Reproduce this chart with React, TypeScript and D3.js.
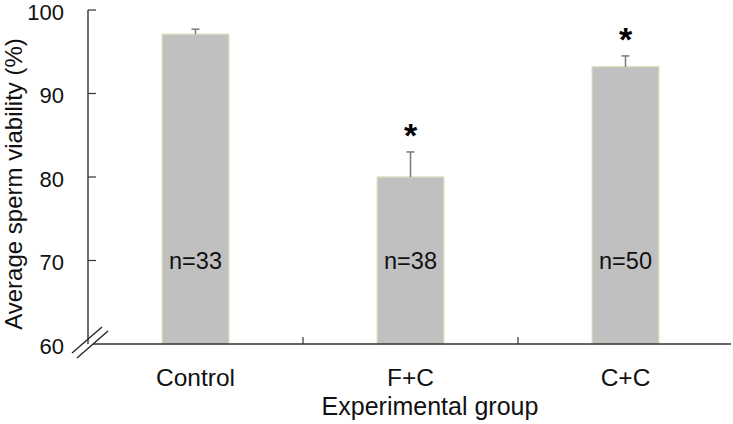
import React from "react";
import * as d3 from "d3";

const categories = ["Control", "F+C", "C+C"];
const means = [97.1, 80.0, 93.2];
const errors = [0.6, 3.0, 1.3];
const nLabels = ["n=33", "n=38", "n=50"];
const significant = [false, true, true];
const yTicks = [60, 70, 80, 90, 100];

const W = 733;
const H = 424;
const M = { left: 88, right: 0, top: 10, bottom: 80 };
const FONT = "Liberation Sans, Arial, sans-serif";

export default function App() {
  const x = d3
    .scaleBand<string>()
    .domain(categories)
    .range([M.left, W - M.right])
    .paddingInner(0)
    .paddingOuter(0);
  const y = d3.scaleLinear().domain([60, 100]).range([H - M.bottom, M.top]);
  const bw = x.bandwidth() * 0.31;
  const y0 = y(60);

  return (
    <svg
      width={W}
      height={H}
      style={{ position: "absolute", left: 0, top: 0, background: "#fff" }}
      fontFamily={FONT}
    >
      {/* bars */}
      {categories.map((c, i) => {
        const cx = (x(c) as number) + x.bandwidth() / 2;
        return (
          <g key={c}>
            <rect
              x={cx - bw / 2}
              y={y(means[i])}
              width={bw}
              height={y0 - y(means[i])}
              fill="#c0c0c0"
              stroke="#dcd8b8"
              strokeWidth={1.2}
            />
            <line
              x1={cx}
              x2={cx}
              y1={y(means[i])}
              y2={y(means[i] + errors[i])}
              stroke="#7a7a7a"
              strokeWidth={1.5}
            />
            <line
              x1={cx - 4}
              x2={cx + 4}
              y1={y(means[i] + errors[i])}
              y2={y(means[i] + errors[i])}
              stroke="#7a7a7a"
              strokeWidth={1.5}
            />
            <text
              x={cx}
              y={y(70) + 8.5}
              textAnchor="middle"
              fontSize={23.5}
              fill="#111"
            >
              {nLabels[i]}
            </text>
            {significant[i] && (
              <text
                x={cx}
                y={y(means[i] + errors[i]) - 5}
                textAnchor="middle"
                fontSize={34}
                fontWeight="bold"
                fill="#000"
              >
                *
              </text>
            )}
            <text
              x={cx}
              y={y0 + 42}
              textAnchor="middle"
              fontSize={24.5}
              fill="#111"
            >
              {c}
            </text>
          </g>
        );
      })}
      {/* x axis */}
      <line x1={93} x2={W - 2} y1={y0} y2={y0} stroke="#333" strokeWidth={1.6} />
      {categories.slice(1).map((c) => (
        <line
          key={c}
          x1={x(c) as number}
          x2={x(c) as number}
          y1={y0}
          y2={y0 - 7}
          stroke="#333"
          strokeWidth={1.2}
        />
      ))}
      {/* y axis */}
      <line x1={M.left} x2={M.left} y1={y(100)} y2={y0} stroke="#333" strokeWidth={1.4} />
      {yTicks.map((t) => (
        <g key={t}>
          {t > 60 && (
            <line
              x1={M.left}
              x2={M.left + 8}
              y1={y(t)}
              y2={y(t)}
              stroke="#333"
              strokeWidth={1.2}
            />
          )}
          <text
            x={M.left - 24}
            y={y(t) + 9.5}
            textAnchor="end"
            fontSize={22}
            fill="#111"
          >
            {t}
          </text>
        </g>
      ))}
      {/* axis break */}
      <line x1={72} y1={353} x2={102} y2={327} stroke="#222" strokeWidth={1.3} />
      <line x1={77} y1={358} x2={108} y2={331} stroke="#222" strokeWidth={1.3} />
      {/* titles */}
      <text x={430} y={415} textAnchor="middle" fontSize={25} fill="#111">
        Experimental group
      </text>
      <text
        transform={`translate(22, ${(y(100) + y0) / 2 + 7}) rotate(-90)`}
        textAnchor="middle"
        fontSize={24}
        fill="#111"
      >
        Average sperm viability (%)
      </text>
    </svg>
  );
}
